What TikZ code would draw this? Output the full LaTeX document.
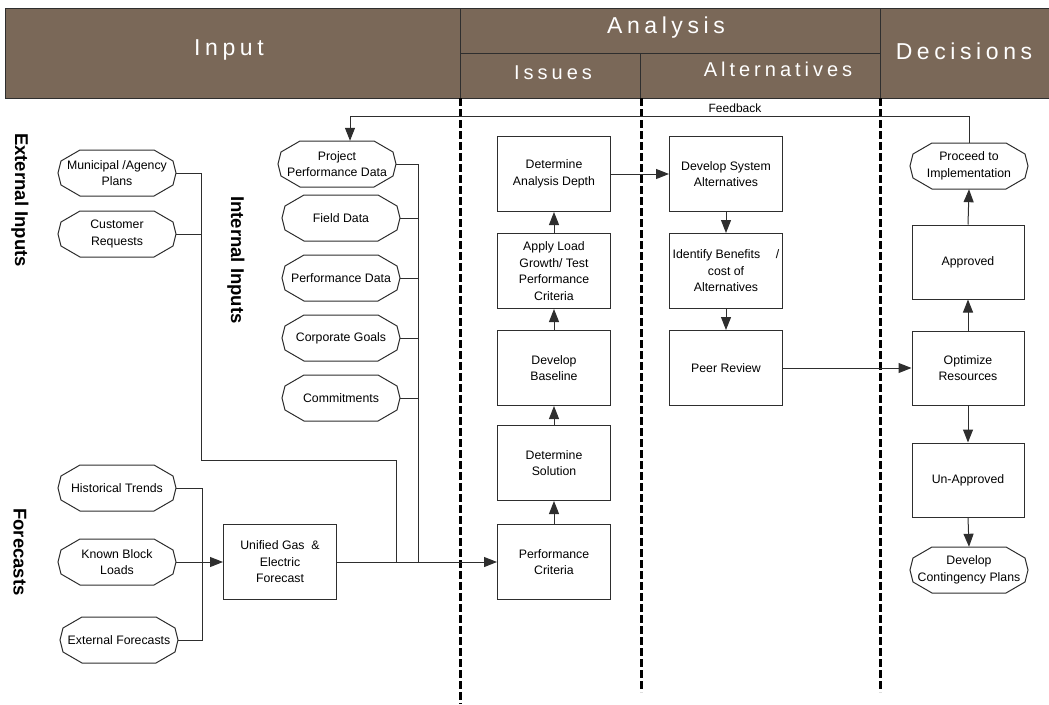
\documentclass[tikz,border=0pt]{standalone}
\usepackage{fontspec}
\setmainfont{Liberation Sans}
\newfontfamily\hdrfont[LetterSpace=20]{Liberation Sans}
\usetikzlibrary{arrows.meta,calc}
\definecolor{hdrbrown}{HTML}{7A6858}
\definecolor{lineg}{HTML}{2E2E2E}
\newcommand\octo[1]{\draw[conn] ([xshift=-59pt]#1.center) -- ([xshift=-56pt,yshift=12pt]#1.center) -- ([xshift=-37pt,yshift=23pt]#1.center) -- ([xshift=37pt,yshift=23pt]#1.center) -- ([xshift=56pt,yshift=12pt]#1.center) -- ([xshift=59pt]#1.center) -- ([xshift=56pt,yshift=-12pt]#1.center) -- ([xshift=37pt,yshift=-23pt]#1.center) -- ([xshift=-37pt,yshift=-23pt]#1.center) -- ([xshift=-56pt,yshift=-12pt]#1.center) -- cycle;}
\begin{document}
\begin{tikzpicture}[x=1pt,y=-1pt,
  txt/.style={align=center,font=\fontsize{12.3}{16.5}\selectfont},
  box/.style={txt,draw=lineg,line width=1pt,minimum width=113pt,minimum height=75pt,inner sep=1pt},
  oct/.style={txt,minimum width=118pt,minimum height=46pt,inner sep=0pt},
  conn/.style={draw=lineg,line width=1pt},
  arr/.style={conn,-{Triangle[length=13pt,width=10pt]}},
  divider/.style={line width=3pt,dash pattern=on 8pt off 3pt},
  hdrtext/.style={text=white,font=\hdrfont\fontsize{23}{26}\selectfont},
  subhdr/.style={text=white,font=\hdrfont\fontsize{20}{24}\selectfont},
  side/.style={font=\bfseries\fontsize{18.5}{22}\selectfont,rotate=-90}
]
\useasboundingbox (0,0) rectangle (1049,704);
% header
\fill[hdrbrown] (5,8) rectangle (1049,98);
\draw[lineg,line width=1pt] (1049,8) -- (5,8) -- (5,98) -- (1049,98);
\draw[lineg,line width=0.9pt] (460,8) -- (460,98) (880,8) -- (880,98) (460,53) -- (880,53) (640,53) -- (640,98);
\node[hdrtext] (hInput) at (229,50) {Input};
\node[hdrtext] (hAnalysis) at (666,28) {Analysis};
\node[subhdr] (hIssues) at (553,73) {Issues};
\node[subhdr] (hAlt) at (778,69) {Alternatives};
\node[hdrtext] (hDec) at (964,51) {Decisions};
% dividers
\draw[divider] (460,98) -- (460,704);
\draw[divider] (641,98) -- (641,692);
\draw[divider] (880,98) -- (880,692);
% side labels
\node[side] (lExt) at (20,200) {External Inputs};
\node[side] (lInt) at (236,260) {Internal Inputs};
\node[side] (lFor) at (20,552) {Forecasts};
% octagon nodes
\node[oct] (mun) at (117,173) {Municipal /Agency\\Plans};
\node[oct] (cust) at (117,234) {Customer\\Requests};
\node[oct] (proj) at (337,164) {Project\\Performance Data};
\node[oct] (field) at (341,218) {Field Data};
\node[oct] (perfd) at (341,278) {Performance Data};
\node[oct] (corp) at (341,338) {Corporate Goals};
\node[oct] (commit) at (341,398) {Commitments};
\node[oct] (hist) at (117,488) {Historical Trends};
\node[oct] (known) at (117,562) {Known Block\\Loads};
\node[oct] (extf) at (119,640) {External Forecasts};
\node[oct] (proceed) at (969,166) {Proceed to\\Implementation};
\node[oct] (contin) at (969,570) {Develop\\Contingency Plans};
\foreach \n in {mun,cust,proj,field,perfd,corp,commit,hist,known,extf,proceed,contin} {\octo{\n}}
% boxes
\node[box] (unified) at (280,562) {Unified Gas \ \&\\Electric\\Forecast};
\node[box] (detdepth) at (554,174) {Determine\\Analysis Depth};
\node[box] (apply) at (554,271) {Apply Load\\Growth/ Test\\Performance\\Criteria};
\node[box] (baseline) at (554,368) {Develop\\Baseline};
\node[box] (detsol) at (554,463) {Determine\\Solution};
\node[box] (perfcrit) at (554,562) {Performance\\Criteria};
\node[box] (devsys) at (726,174) {Develop System\\Alternatives};
\node[box] (identify) at (726,271) {Identify Benefits \quad/\\cost of\\Alternatives};
\node[box] (peer) at (726,368) {Peer Review};
\node[box,minimum width=112pt,minimum height=74pt] (approved) at (968,262) {Approved};
\node[box,minimum width=112pt,minimum height=74pt] (optimize) at (968,368) {Optimize\\Resources};
\node[box,minimum width=112pt,minimum height=74pt] (unapproved) at (968,480) {Un-Approved};
% bus coordinates
\coordinate (eb1) at (201,460);
\coordinate (eb2) at (396,460);
\coordinate (eb3) at (396,562);
\coordinate (ib) at (418,562);
\coordinate (fj) at (202,562);
\coordinate (fb) at (350,116);
% external inputs bus
\draw[conn] (mun.east) -| (eb1) -- (eb2) -- (eb3);
\draw[conn] (cust.east) -- (cust.east -| eb1);
% internal inputs bus
\draw[conn] (proj.east) -| (ib);
\foreach \n in {field,perfd,corp,commit} {\draw[conn] (\n.east) -- (\n.east -| ib);}
% forecasts
\draw[conn] (hist.east) -| (fj);
\draw[conn] (extf.east) -| (fj);
\draw[arr] (known.east) -- (unified.west);
\draw[arr] (unified.east) -- (perfcrit.west);
% issues chain
\draw[arr] (perfcrit.north) -- (detsol.south);
\draw[arr] (detsol.north) -- (baseline.south);
\draw[arr] (baseline.north) -- (apply.south);
\draw[arr] (apply.north) -- (detdepth.south);
\draw[arr] (detdepth.east) -- (devsys.west);
% alternatives chain
\draw[arr] (devsys.south) -- (identify.north);
\draw[arr] (identify.south) -- (peer.north);
\draw[arr] (peer.east) -- (optimize.west);
% decisions
\draw[arr] (optimize.north) -- (approved.south);
\draw[arr] (approved.north) -- (proceed.south);
\draw[arr] (optimize.south) -- (unapproved.north);
\draw[arr] (unapproved.south) -- (contin.north);
% feedback
\draw[arr] (proceed.north) |- (fb) -- (fb |- proj.north);
\node[font=\fontsize{12}{14}\selectfont] (fbl) at (735,108) {Feedback};
\end{tikzpicture}
\end{document}
